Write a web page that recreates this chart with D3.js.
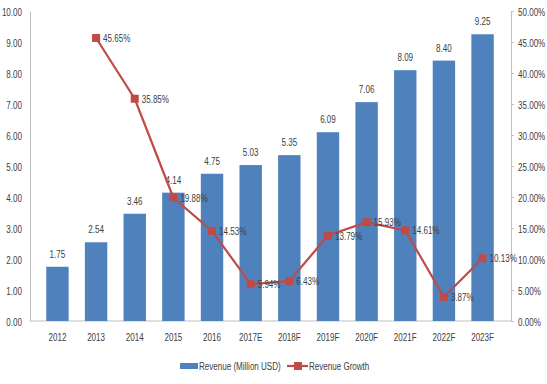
<!DOCTYPE html>
<html>
<head>
<meta charset="utf-8">
<script src="https://cdn.jsdelivr.net/npm/d3@7"></script>
<style>
  body { margin: 0; background: #fff; }
  text { font-family: "Liberation Sans", sans-serif; fill: #404040; }
</style>
</head>
<body>
<svg id="chart" width="547" height="384"></svg>
<script>
'use strict'

/****** DATA ******/
const years = ['2012', '2013', '2014', '2015', '2016', '2017E', '2018F', '2019F', '2020F', '2021F', '2022F', '2023F']
const revenue = [1.75, 2.54, 3.46, 4.14, 4.75, 5.03, 5.35, 6.09, 7.06, 8.09, 8.40, 9.25]
const growth = [null, 45.65, 35.85, 19.88, 14.53, 5.94, 6.43, 13.79, 15.93, 14.61, 3.87, 10.13]
const leftTicks = [0, 1, 2, 3, 4, 5, 6, 7, 8, 9, 10]
const rightTicks = [0, 5, 10, 15, 20, 25, 30, 35, 40, 45, 50]
const legendLabels = ['Revenue (Million USD)', 'Revenue Growth']

const BAR_COLOR = '#4f81bd'
const LINE_COLOR = '#be4b48'
const AXIS_COLOR = '#bfbfbf'
const FS = 11.5 // font size
const SX = 0.7  // horizontal squeeze, the source font is a narrow one

const svg = d3.select('#chart')

const x = d3.scaleBand().domain(years).range([30, 510]).padding(0.42)
const yL = d3.scaleLinear().domain([0, 10]).range([321, 11])
const yR = d3.scaleLinear().domain([0, 50]).range([321, 11])

// put a narrow text at px,py
const place = (sel, px, py) => sel
  .attr('x', 0).attr('y', 0)
  .attr('font-size', FS)
  .attr('transform', (d, i) => `translate(${typeof px == 'function' ? px(d, i) : px},${typeof py == 'function' ? py(d, i) : py}) scale(${SX},1)`)

// axes
const axisL = svg.append('g').attr('transform', 'translate(30,0)')
  .call(d3.axisLeft(yL).tickValues(leftTicks).tickFormat(d3.format('.2f')).tickSize(0))
const axisR = svg.append('g').attr('transform', 'translate(511,0)')
  .call(d3.axisRight(yR).tickValues(rightTicks).tickFormat(d => d3.format('.2f')(d) + '%').tickSize(3))
const axisB = svg.append('g').attr('transform', 'translate(0,321)')
  .call(d3.axisBottom(x).tickSize(0))

for (const a of [axisL, axisR, axisB]) {
  a.select('.domain').attr('stroke', AXIS_COLOR)
  a.selectAll('line').attr('stroke', AXIS_COLOR)
  a.selectAll('text').attr('fill', '#404040').attr('dy', null)
}
axisB.select('.domain').attr('d', 'M30,0H511')
place(axisL.selectAll('.tick text'), -8, 4)
place(axisR.selectAll('.tick text'), 7, 4)
place(axisB.selectAll('.tick text'), 0, 20)

// bars
const barData = years.map((y, i) => ({ year: y, v: revenue[i] }))
const bx = d => x(d.year) + x.bandwidth() / 2

svg.append('g').selectAll('rect')
  .data(barData)
  .join('rect')
    .attr('x', d => x(d.year))
    .attr('width', x.bandwidth())
    .attr('y', d => yL(d.v))
    .attr('height', d => yL(0) - yL(d.v))
    .attr('fill', BAR_COLOR)

svg.append('g').selectAll('text')
  .data(barData)
  .join('text')
    .attr('text-anchor', 'middle')
    .call(place, bx, d => yL(d.v) - 9)
    .text(d => d.v.toFixed(2))

// growth line
const pts = years.map((y, i) => ({ year: y, v: growth[i] })).filter(d => d.v !== null)

svg.append('path')
  .datum(pts)
  .attr('fill', 'none')
  .attr('stroke', LINE_COLOR)
  .attr('stroke-width', 2.2)
  .attr('d', d3.line().x(bx).y(d => yR(d.v)))

svg.append('g').selectAll('rect')
  .data(pts)
  .join('rect')
    .attr('x', d => bx(d) - 4)
    .attr('y', d => yR(d.v) - 4)
    .attr('width', 8)
    .attr('height', 8)
    .attr('fill', LINE_COLOR)

svg.append('g').selectAll('text')
  .data(pts)
  .join('text')
    .call(place, d => bx(d) + 7, d => yR(d.v) + 4)
    .text(d => d.v.toFixed(2) + '%')

// legend
const lg = svg.append('g').attr('transform', 'translate(0,366)')
lg.append('rect').attr('x', 180).attr('y', -3).attr('width', 18).attr('height', 6).attr('fill', BAR_COLOR)
lg.append('text').call(place, 199, 4).text(legendLabels[0])
lg.append('line').attr('x1', 287).attr('x2', 308).attr('y1', 0).attr('y2', 0)
  .attr('stroke', LINE_COLOR).attr('stroke-width', 2.2)
lg.append('rect').attr('x', 294).attr('y', -4).attr('width', 8).attr('height', 8).attr('fill', LINE_COLOR)
lg.append('text').call(place, 309, 4).text(legendLabels[1])
</script>
</body>
</html>
